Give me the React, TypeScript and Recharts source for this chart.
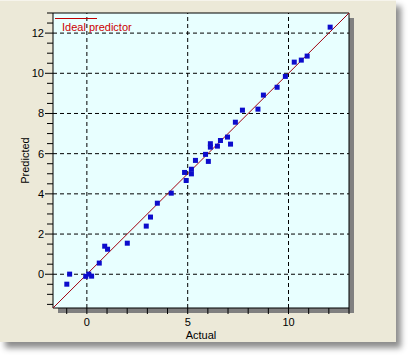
import React from 'react'
import {
  CartesianGrid,
  ReferenceLine,
  Scatter,
  ScatterChart,
  XAxis,
  YAxis,
} from 'recharts'

const actual = [
  -1.02, -0.88, -0.08, 0.07, 0.21, 0.59, 0.86, 1.0, 1.98, 2.92, 3.13, 3.47,
  4.16, 4.9, 4.82, 5.16, 5.16, 5.36, 5.86, 6.0, 6.1, 6.1, 6.45, 6.6, 6.95,
  7.1, 7.34, 7.69, 8.46, 8.73, 9.41, 9.82, 10.26, 10.61, 10.9, 12.04,
]
const predicted = [
  -0.47, 0.03, -0.08, 0.03, -0.07, 0.58, 1.42, 1.27, 1.57, 2.42, 2.87, 3.56,
  4.06, 4.69, 5.09, 5.02, 5.25, 5.69, 5.99, 5.64, 6.52, 6.35, 6.4, 6.68, 6.85,
  6.5, 7.59, 8.19, 8.24, 8.94, 9.33, 9.87, 10.58, 10.68, 10.88, 12.32,
]

const AXIS_MIN = -1.68
const AXIS_MAX = 13

const xTicks = [-1, 0, 1, 2, 3, 4, 5, 6, 7, 8, 9, 10, 11, 12, 13]
const xGrid = [0, 5, 10]
const yTicks = [
  -1.5, -1, -0.5, 0, 0.5, 1, 1.5, 2, 2.5, 3, 3.5, 4, 4.5, 5, 5.5, 6, 6.5, 7,
  7.5, 8, 8.5, 9, 9.5, 10, 10.5, 11, 11.5, 12, 12.5, 13,
]
const yGrid = [0, 2, 4, 6, 8, 10, 12]

const points = actual.map((x, i) => ({ x, y: predicted[i] }))
const ideal = [
  { x: AXIS_MIN, y: AXIS_MIN },
  { x: AXIS_MAX, y: AXIS_MAX },
]

const FONT = '"Liberation Sans", Arial, sans-serif'
const BLUE = '#0C0CCC'
const RED = '#A00010'

function XTick(props: any) {
  const { x, y, payload } = props
  const v = payload.value
  return (
    <g>
      <line x1={x} x2={x} y1={y} y2={y + 6} stroke="#000" />
      {xGrid.includes(v) && (
        <text x={x} y={y + 18} textAnchor="middle" fontSize={11} fontFamily={FONT} fill="#000">
          {v}
        </text>
      )}
    </g>
  )
}

function YTick(props: any) {
  const { x, y, payload } = props
  const v = payload.value
  const major = yGrid.includes(v)
  return (
    <g>
      <line x1={x - (major ? 8 : 6)} x2={x} y1={y} y2={y} stroke="#000" />
      {major && (
        <text x={x - 9} y={y + 4} textAnchor="end" fontSize={11} fontFamily={FONT} fill="#000">
          {v}
        </text>
      )}
    </g>
  )
}

function Square(props: any) {
  const { cx, cy } = props
  return <rect x={cx - 2} y={cy - 2} width={5} height={5} fill={BLUE} />
}

export default function App() {
  return (
    <div style={{ position: 'absolute', left: 0, top: 0, width: 412, height: 360, background: '#fff' }}>
      <div
        style={{
          position: 'absolute',
          left: 0,
          top: 0,
          width: 396,
          height: 342,
          background: '#ECE9D8',
          borderTop: '1px solid #F6F4EC',
          boxSizing: 'border-box',
          boxShadow: '5px 6px 6px rgba(0,0,0,0.45)',
        }}
      />
      <div style={{ position: 'absolute', left: 58, top: 18, width: 296, height: 295, background: '#808080' }} />
      <div style={{ position: 'absolute', left: 0, top: 0 }}>
        <ScatterChart width={412} height={360} margin={{ top: 13, right: 63, bottom: 22, left: 0 }}>
          <CartesianGrid fill="#E8FFFF" horizontal={false} vertical={false} />
          <XAxis
            type="number"
            dataKey="x"
            domain={[AXIS_MIN, AXIS_MAX]}
            allowDataOverflow
            ticks={xTicks}
            interval={0}
            tick={<XTick />}
            tickLine={false}
            tickSize={0}
            tickMargin={0}
            height={30}
            axisLine={{ stroke: '#000' }}
            label={(p: any) => {
              const vb = p.viewBox
              return (
                <text x={vb.x + vb.width / 2} y={vb.y + 31} textAnchor="middle" fontSize={11} fontFamily={FONT} fill="#000">
                  Actual
                </text>
              )
            }}
          />
          <YAxis
            type="number"
            dataKey="y"
            domain={[AXIS_MIN, AXIS_MAX]}
            allowDataOverflow
            ticks={yTicks}
            interval={0}
            tick={<YTick />}
            tickLine={false}
            tickSize={0}
            tickMargin={0}
            width={53}
            axisLine={{ stroke: '#000' }}
            label={(p: any) => {
              const vb = p.viewBox
              const cx = vb.x + 28.5
              const cy = vb.y + vb.height / 2
              return (
                <text
                  x={cx}
                  y={cy}
                  transform={`rotate(-90 ${cx} ${cy})`}
                  textAnchor="middle"
                  fontSize={11}
                  fontFamily={FONT}
                  fill="#000"
                >
                  Predicted
                </text>
              )
            }}
          />
          {xGrid.map((v) => (
            <ReferenceLine key={'x' + v} x={v} stroke="#000" strokeDasharray="4 3" />
          ))}
          {yGrid.map((v) => (
            <ReferenceLine key={'y' + v} y={v} stroke="#000" strokeDasharray="4 3" />
          ))}
          <ReferenceLine x={AXIS_MAX} stroke="#000" />
          <ReferenceLine y={AXIS_MAX} stroke="#000" />
          <Scatter
            data={ideal}
            line={{ stroke: RED, strokeWidth: 1 }}
            shape={() => <g />}
            isAnimationActive={false}
          />
          <Scatter data={points} shape={<Square />} isAnimationActive={false} />
        </ScatterChart>
      </div>
      <svg style={{ position: 'absolute', left: 0, top: 0 }} width={160} height={40}>
        <line x1={55} x2={97} y1={18.5} y2={18.5} stroke="#C00000" />
        <text x={62} y={31} fontSize={11} fontFamily={FONT} fill="#CC0000">
          Ideal predictor
        </text>
      </svg>
    </div>
  )
}
